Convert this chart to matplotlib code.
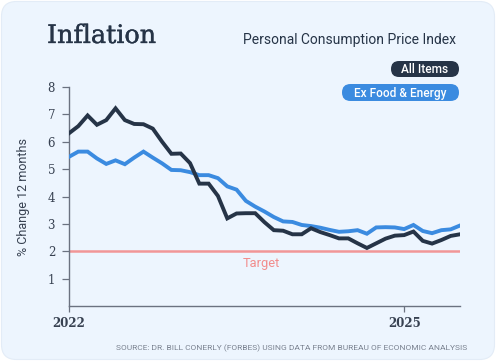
import matplotlib
matplotlib.use("Agg")
import matplotlib.pyplot as plt
from matplotlib.patches import FancyBboxPatch
import matplotlib.patheffects as pe
import numpy as np

# ---- data ----
months = list(range(43))  # Jan 2022 .. Jul 2025
all_items = [6.31, 6.57, 6.96, 6.62, 6.79, 7.22, 6.79, 6.65, 6.64, 6.48, 6.00, 5.56, 5.57,
             5.22, 4.47, 4.47, 4.02, 3.20, 3.38, 3.39, 3.39, 3.06, 2.77, 2.75, 2.62, 2.62,
             2.84, 2.70, 2.59, 2.47, 2.47, 2.29, 2.12, 2.29, 2.46, 2.57, 2.59, 2.72, 2.38,
             2.28, 2.41, 2.56, 2.62]
ex_food_energy = [5.45, 5.64, 5.64, 5.39, 5.19, 5.32, 5.18, 5.42, 5.64, 5.42, 5.21, 4.97,
                  4.96, 4.89, 4.78, 4.78, 4.67, 4.37, 4.25, 3.84, 3.63, 3.45, 3.25, 3.09,
                  3.07, 2.96, 2.92, 2.86, 2.78, 2.71, 2.73, 2.77, 2.64, 2.87, 2.88, 2.87,
                  2.81, 2.96, 2.74, 2.66, 2.77, 2.80, 2.94]
target = 2
xtick_pos = [0, 36]
xtick_labels = ["2022", "2025"]
yticks = [1, 2, 3, 4, 5, 6, 7, 8]

W, H = 496, 362
DARK = "#263447"
BLUE = "#3B8BE0"
RED = "#F28C8C"
PANEL = "#EDF5FE"
GRAY = "#6B7280"
TXT = "#374151"

fig = plt.figure(figsize=(W / 100, H / 100), dpi=100, facecolor="white")

# overlay in pixel coordinates for panel & badges
ov = fig.add_axes([0, 0, 1, 1], zorder=0)
ov.set_xlim(0, W)
ov.set_ylim(H, 0)
ov.axis("off")
ov.add_patch(FancyBboxPatch((1.5, 1.5), W - 3, H - 4, boxstyle="round,pad=0,rounding_size=15",
                            fc=PANEL, ec="#E3ECF7", lw=0.8))

# badges
ov.add_patch(FancyBboxPatch((391, 61), 68, 16, boxstyle="round,pad=0,rounding_size=8",
                            fc=DARK, ec="none"))
ov.text(425, 69.5, "All Items", color="white", fontsize=8.6, family="Roboto",
        fontweight="medium", ha="center", va="center")
ov.add_patch(FancyBboxPatch((342, 84), 117, 17, boxstyle="round,pad=0,rounding_size=8.5",
                            fc=BLUE, ec="none"))
ov.text(400.5, 93, "Ex Food & Energy", color="white", fontsize=8.6, family="Roboto",
        fontweight="medium", ha="center", va="center")

# titles
ov.text(47, 43, "Inflation", fontsize=18.3, family="DejaVu Serif",
        color=DARK, ha="left", va="baseline",
        path_effects=[pe.withStroke(linewidth=0.25, foreground=DARK)])
ov.text(456, 44, "Personal Consumption Price Index", fontsize=10, family="Roboto",
        color=DARK, ha="right", va="baseline")
ov.text(467, 348, "SOURCE: DR. BILL CONERLY (FORBES) USING DATA FROM BUREAU OF ECONOMIC ANALYSIS",
        fontsize=6.0, family="Roboto", color="#7A8290", ha="right", va="center")

# main axes
ax = fig.add_axes([69 / W, (H - 306) / H, (460 - 69) / W, (306 - 87) / H], zorder=2)
ax.patch.set_alpha(0)
ax.plot(months, ex_food_energy, color=BLUE, lw=2.8, solid_joinstyle="miter", zorder=3)
ax.plot(months, all_items, color=DARK, lw=2.8, solid_joinstyle="miter", zorder=4)
ax.axhline(target, color=RED, lw=1.8, zorder=2, alpha=0.9)
ax.text(20.7, target - 0.45, "Target", color=RED, fontsize=9.3, family="Roboto",
        ha="center", va="center")

ax.set_xlim(0, 42)
ax.set_ylim(0, 8)
ax.set_yticks(yticks)
ax.set_yticklabels([str(v) for v in yticks])
ax.set_xticks(xtick_pos)
ax.set_xticklabels(xtick_labels)
for s in ["top", "right"]:
    ax.spines[s].set_visible(False)
for s in ["left", "bottom"]:
    ax.spines[s].set_color(GRAY)
    ax.spines[s].set_linewidth(1.0)
ax.tick_params(axis="y", length=5, width=0.9, color=GRAY, pad=5, labelcolor=TXT)
ax.tick_params(axis="x", length=4, width=0.9, color=GRAY, pad=4, labelcolor=TXT)
for lab in ax.get_yticklabels():
    lab.set_family("DejaVu Serif")
    lab.set_fontsize(8.5)
for lab in ax.get_xticklabels():
    lab.set_family("DejaVu Serif")
    lab.set_fontsize(8.5)
    lab.set_fontweight("bold")
ax.set_ylabel("% Change 12 months", family="Roboto", fontsize=9, color=TXT, labelpad=13)

fig.savefig("out.png", dpi=100, facecolor="white")
